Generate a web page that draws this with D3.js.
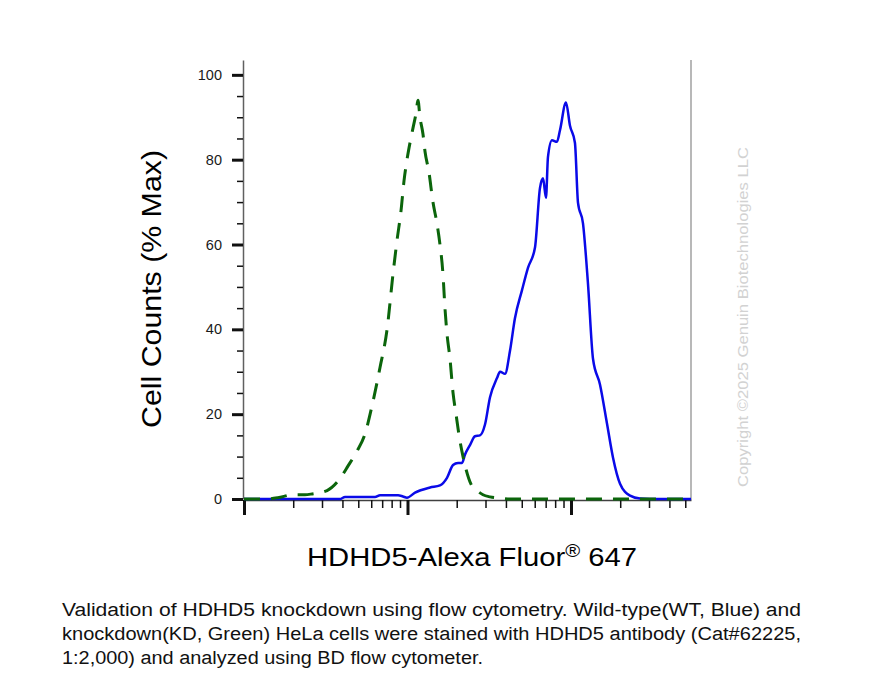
<!DOCTYPE html>
<html>
<head>
<meta charset="utf-8">
<script src="https://cdn.jsdelivr.net/npm/d3@7"></script>
<style>
  body { margin: 0; background: #fff; }
  svg { display: block; font-family: "Liberation Sans", Arial, sans-serif; }
</style>
</head>
<body>
<div id="chart"></div>
<script>
// fluorescence intensity (log axis) and % of max
const kdX = [100, 134, 161, 199, 236, 261, 322, 381, 433, 491, 550, 607, 679, 750, 815, 863, 913, 952, 993, 1036, 1081, 1128, 1159, 1192, 1244, 1279, 1353, 1431, 1514, 1580, 1648, 1695, 1744, 1820, 1899, 1981, 2067, 2186, 2280, 2445, 2660, 2896, 3197, 3681, 4238, 6460, 11350, 19950, 35000, 54200];
const kdY = [0, 0, 0.3, 1, 1, 1.2, 2, 4.5, 7.8, 11.3, 15.4, 22, 31, 40, 53, 61, 68, 75, 80, 84, 87.5, 91, 94, 90, 86, 82, 77, 70, 65, 60, 53, 45, 39, 33, 25, 20, 15, 10, 7, 3.5, 2, 1, 0.5, 0.2, 0, 0, 0, 0, 0, 0];

const wtX = [100, 386, 415, 633, 679, 875, 938, 993, 1112, 1374, 1580, 1744, 1899, 2038, 2155, 2249, 2411, 2587, 2774, 2976, 3197, 3527, 3681, 3946, 4238, 4541, 5012, 5455, 6023, 6460, 6745, 7031, 7229, 7650, 8204, 8570, 9317, 9860, 10570, 11040, 11840, 12690, 13640, 15040, 16600, 18060, 19950, 22970, 26430, 30410, 54200];
const wtY = [0, 0, 0.5, 0.5, 0.9, 0.9, 0.6, 0.3, 1.5, 2.7, 3.2, 5, 8, 8.5, 8.5, 10.5, 12.7, 14.8, 15, 17.5, 24, 28.5, 30, 29.5, 35, 42.6, 49.2, 54.5, 59.3, 73.3, 75.6, 71, 80.6, 84.6, 84.2, 87, 93.5, 88, 84, 69.8, 65, 51, 33, 27, 17.8, 9.8, 3.6, 0.8, 0.1, 0, 0];

const yMajor = [0, 20, 40, 60, 80, 100];
const yMinor = [5, 10, 15, 25, 30, 35, 45, 50, 55, 65, 70, 75, 85, 90, 95];
const xMajor = [100, 1000, 10000];
const xMinor = [200, 300, 400, 500, 600, 700, 800, 900, 2000, 3000, 4000, 5000, 6000, 7000, 8000, 9000, 20000, 30000, 40000, 50000];

const xLabel = ["HDHD5-Alexa Fluor", "®", " 647"];
const yLabel = "Cell Counts (% Max)";
const watermark = "Copyright ©2025 Genuin Biotechnologies LLC";
const caption = [
    "Validation of HDHD5 knockdown using flow cytometry. Wild-type(WT, Blue) and",
    "knockdown(KD, Green) HeLa cells were stained with HDHD5 antibody (Cat#62225,",
    "1:2,000) and analyzed using BD flow cytometer."
];

const width = 886, height = 697;
const plotLeft = 244, plotRight = 691, plotTop = 60, plotBottom = 500;

const svg = d3.select('#chart').append('svg')
    .attr('width', width)
    .attr('height', height);

const x = d3.scaleLog().domain([100, 54200]).range([plotLeft, plotRight]);
const y = d3.scaleLinear().domain([0, 103.5]).range([plotBottom - 1, plotTop]);

// right frame line
svg.append('line')
    .attr('x1', plotRight).attr('x2', plotRight)
    .attr('y1', plotTop).attr('y2', plotBottom)
    .attr('stroke', '#a0a0a0').attr('stroke-width', 1.5);

// y axis: minor then major ticks
const yMinorAxis = svg.append('g')
    .attr('transform', `translate(${plotLeft - 1},0)`)
    .call(d3.axisLeft(y).tickValues(yMinor).tickSize(6).tickSizeOuter(0).tickFormat(''));
yMinorAxis.select('.domain').attr('stroke', '#606060').attr('stroke-width', 1.5);
yMinorAxis.selectAll('.tick line').attr('stroke', '#111').attr('stroke-width', 1.5);

const yMajorAxis = svg.append('g')
    .attr('transform', `translate(${plotLeft - 1},0)`)
    .call(d3.axisLeft(y).tickValues(yMajor).tickSize(11).tickPadding(10).tickSizeOuter(0));
yMajorAxis.select('.domain').remove();
yMajorAxis.selectAll('.tick line').attr('stroke', '#111').attr('stroke-width', 3);
yMajorAxis.selectAll('.tick text')
    .attr('font-size', '14.5px')
    .attr('fill', '#1a1a1a')
    .attr('font-family', '"Liberation Sans", Arial, sans-serif');

// x axis
const xMinorAxis = svg.append('g')
    .attr('transform', `translate(0,${plotBottom})`)
    .call(d3.axisBottom(x).tickValues(xMinor).tickSize(8).tickSizeOuter(0).tickFormat(''));
xMinorAxis.select('.domain').attr('stroke', '#404040').attr('stroke-width', 1.5);
xMinorAxis.selectAll('.tick line').attr('stroke', '#111').attr('stroke-width', 1.5);

const xMajorAxis = svg.append('g')
    .attr('transform', `translate(0,${plotBottom})`)
    .call(d3.axisBottom(x).tickValues(xMajor).tickSize(15).tickSizeOuter(0).tickFormat(''));
xMajorAxis.select('.domain').remove();
xMajorAxis.selectAll('.tick line').attr('stroke', '#111').attr('stroke-width', 3);

// histograms
const line = d3.line()
    .x(d => x(d[0]))
    .y(d => y(d[1]))
    .curve(d3.curveMonotoneX);

svg.append('path')
    .datum(d3.zip(wtX, wtY))
    .attr('d', line)
    .attr('fill', 'none')
    .attr('stroke', '#0a0ae8')
    .attr('stroke-width', 2.5);

svg.append('path')
    .datum(d3.zip(kdX, kdY))
    .attr('d', line)
    .attr('fill', 'none')
    .attr('stroke', '#0b650b')
    .attr('stroke-width', 3)
    .attr('stroke-dasharray', '16,11');

// axis titles
svg.append('text')
    .attr('transform', 'translate(161,289) rotate(-90)')
    .attr('text-anchor', 'middle')
    .attr('font-size', '28px')
    .attr('fill', '#000')
    .attr('textLength', 278)
    .attr('lengthAdjust', 'spacingAndGlyphs')
    .text(yLabel);

const xt = svg.append('text')
    .attr('x', 307).attr('y', 566)
    .attr('font-size', '26px')
    .attr('fill', '#000')
    .attr('textLength', 330)
    .attr('lengthAdjust', 'spacingAndGlyphs');
xt.append('tspan').text(xLabel[0]);
xt.append('tspan').attr('font-size', '18px').attr('dy', -9).text(xLabel[1]);
xt.append('tspan').attr('dy', 9).text(xLabel[2]);

// watermark
svg.append('text')
    .attr('transform', 'translate(748,317) rotate(-90)')
    .attr('text-anchor', 'middle')
    .attr('font-size', '15px')
    .attr('fill', '#d2d2d2')
    .attr('textLength', 340)
    .attr('lengthAdjust', 'spacingAndGlyphs')
    .text(watermark);

// caption
const capLengths = [739, 739, 421];
svg.selectAll('.caption')
    .data(caption)
    .enter().append('text')
    .attr('class', 'caption')
    .attr('x', 62)
    .attr('y', (d, i) => 616 + i * 24)
    .attr('font-size', '18px')
    .attr('fill', '#111')
    .attr('textLength', (d, i) => capLengths[i])
    .attr('lengthAdjust', 'spacingAndGlyphs')
    .text(d => d);
</script>
</body>
</html>
